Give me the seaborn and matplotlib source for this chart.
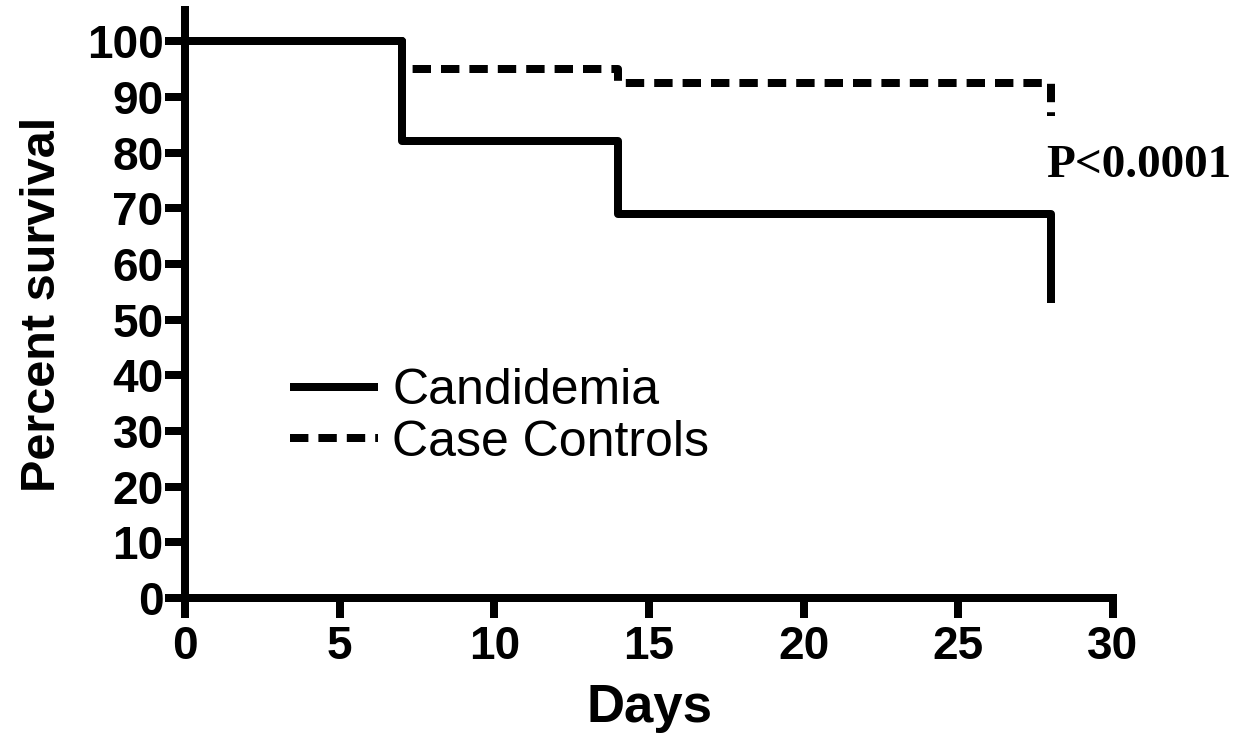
import matplotlib
matplotlib.use("Agg")
import matplotlib.pyplot as plt
import seaborn as sns
import pandas as pd

# Data
days = [0, 7, 14, 28]
candidemia = [100, 82, 69, 53]
case_controls = [100, 95, 92.5, 86.5]
x_ticks = [0, 5, 10, 15, 20, 25, 30]
y_ticks = [0, 10, 20, 30, 40, 50, 60, 70, 80, 90, 100]

df = pd.concat([
    pd.DataFrame({"Days": days, "Percent survival": case_controls, "Group": "Case Controls"}),
    pd.DataFrame({"Days": days, "Percent survival": candidemia, "Group": "Candidemia"}),
])

sns.set_style("ticks")
plt.rcParams["font.family"] = ["Liberation Sans", "DejaVu Sans"]
plt.rcParams["text.color"] = "black"
plt.rcParams["axes.labelcolor"] = "black"
plt.rcParams["xtick.color"] = "black"
plt.rcParams["ytick.color"] = "black"

fig = plt.figure(figsize=(12.39, 7.37), dpi=100)
ax = fig.add_axes([185 / 1239, 1 - 598 / 737, (1113 - 185) / 1239, (598 - 10) / 737])

lw = 5.76
sns.lineplot(data=df[df.Group == "Case Controls"], x="Days", y="Percent survival",
             ax=ax, color="black", lw=lw, drawstyle="steps-post",
             linestyle=(0, (2.3, 1.25)), dash_capstyle="butt", label="Case Controls",
             errorbar=None)
sns.lineplot(data=df[df.Group == "Candidemia"], x="Days", y="Percent survival",
             ax=ax, color="black", lw=lw, drawstyle="steps-post",
             solid_capstyle="butt", label="Candidemia", errorbar=None)

ax.set_xlim(0, 30)
ax.set_ylim(0, 105.6)
ax.set_xticks(x_ticks)
ax.set_yticks(y_ticks)
ax.set_xticklabels([str(t) for t in x_ticks], fontsize=33, fontweight="bold")
ax.set_yticklabels([str(t) for t in y_ticks], fontsize=33, fontweight="bold")
ax.tick_params(axis="both", width=lw, length=14.4, colors="black")
ax.tick_params(axis="y", pad=1)
ax.tick_params(axis="x", pad=5)

for s in ["top", "right"]:
    ax.spines[s].set_visible(False)
for s in ["left", "bottom"]:
    ax.spines[s].set_linewidth(lw)
    ax.spines[s].set_color("black")
    ax.spines[s].set_capstyle("projecting")

ax.set_xlabel("Days", fontsize=38, fontweight="bold", labelpad=10)
ax.set_ylabel("Percent survival", fontsize=35, fontweight="bold", labelpad=16)

handles, labels = ax.get_legend_handles_labels()
order = [labels.index("Candidemia"), labels.index("Case Controls")]
ax.legend([handles[i] for i in order], [labels[i] for i in order],
          loc="center left", bbox_to_anchor=(290 / 1239, 1 - 417 / 737),
          bbox_transform=fig.transFigure, frameon=False, fontsize=36,
          handlelength=1.75, handletextpad=0.3, labelspacing=0.1,
          borderpad=0, borderaxespad=0)

ax.text(27.85, 77.6, "P<0.0001", fontsize=34, fontweight="bold",
        family=["Liberation Serif", "DejaVu Serif"], ha="left", va="center")

fig.savefig("out.png", dpi=100, facecolor="white")
